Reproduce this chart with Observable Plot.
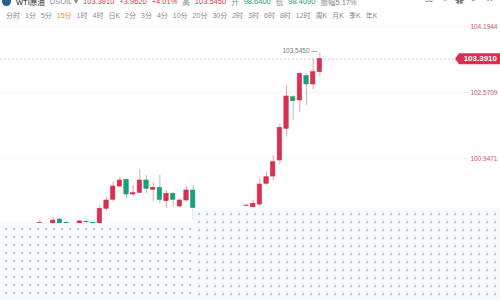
<!DOCTYPE html>
<html>
<head>
<meta charset="utf-8">
<script src="https://cdn.jsdelivr.net/npm/d3@7"></script>
<script src="https://cdn.jsdelivr.net/npm/@observablehq/plot@0.6"></script>
<style>
  html, body { margin: 0; padding: 0; background: #fff; }
  body { width: 500px; height: 300px; position: relative; overflow: hidden;
         font-family: "Liberation Sans", "Noto Sans CJK SC", sans-serif; }
  #quote { position: absolute; left: 2px; top: -5px; height: 12px;
           display: flex; gap: 5px; align-items: center;
           font-size: 7.5px; white-space: nowrap; }
  #logo { width: 9px; height: 9px; border-radius: 50%; background: #2c5d8f; }
  #tools { position: absolute; right: 6px; top: -6px; display: flex; gap: 7px;
           font-size: 9px; color: #777; }
  #tabs { position: absolute; left: 6px; top: 10px; display: flex; gap: 5px;
          font-size: 7px; color: #8a8a8a; white-space: nowrap; }
  #tabs .on { color: #f08a3c; }
  #chart { position: absolute; left: 0; top: 24px; }
  .veil { position: absolute; background-color: #f5f9fa;
          background-image: radial-gradient(circle, #a3abaf 0.5px, rgba(0,0,0,0) 1.1px);
          background-size: 8px 8px; background-position: 2px 2px; }
</style>
</head>
<body>
<div id="quote"><span id="logo"></span></div>
<div id="tools"></div>
<div id="tabs"></div>
<div id="chart"></div>
<div class="veil" style="left:0;top:223px;width:193px;height:77px"></div>
<div class="veil" style="left:193px;top:208px;width:307px;height:92px"></div>
<script>
// WTI crude (USOIL), 15-minute candles
const candleIndex = [-2, 0, 1, 2, 4, 5, 6, 7, 8, 9, 10, 11, 12, 13, 14, 15, 16, 17, 18, 19, 20, 21,
                     29, 30, 31, 32, 33, 34, 35, 36, 37, 38, 39, 40];
const openPx  = [99.34, 99.33, 99.446, 99.36, 99.34, 99.39, 99.365, 99.34, 99.71, 99.931, 100.258, 100.423, 100.062, 100.103, 100.406, 100.177, 100.226, 99.897, 100.079, 99.766, 99.914, 100.160,
                 99.78, 99.749, 99.815, 100.325, 100.504, 100.898, 101.678, 102.455, 102.374, 102.972, 102.768, 103.070];
const highPx  = [99.43, 99.50, 99.47, 99.39, 99.42, 99.42, 99.38, 99.79, 99.995, 100.364, 100.487, 100.45, 100.283, 100.669, 100.529, 100.364, 100.529, 100.16, 100.12, 99.95, 100.258, 100.283,
                 99.81, 99.914, 100.448, 100.610, 101.021, 101.801, 102.743, 102.497, 103.046, 103.031, 103.400, 103.545];
const lowPx   = [99.33, 99.31, 99.32, 99.33, 99.32, 99.35, 99.34, 99.33, 99.651, 99.872, 100.24, 99.956, 100.012, 100.09, 100.086, 99.897, 99.84, 99.71, 99.749, 99.73, 99.88, 99.422,
                 99.76, 99.73, 99.774, 100.283, 100.389, 100.800, 101.471, 101.882, 102.086, 102.251, 102.637, 102.947];
const closePx = [99.36, 99.42, 99.341, 99.355, 99.40, 99.38, 99.355, 99.71, 99.914, 100.258, 100.406, 100.062, 100.094, 100.406, 100.202, 100.226, 99.931, 100.079, 99.931, 99.914, 100.160, 99.734,
                 99.79, 99.833, 100.307, 100.487, 100.856, 101.702, 102.472, 102.357, 103.031, 102.768, 103.070, 103.391];

const priceTicks = [104.1944, 102.5709, 100.9471, 99.3233];
const lastPrice = 103.391;
const sessionHigh = 103.545;

const quoteItems = [
  ["WTI原油", "#222"], ["USOIL ▾", "#888"], ["103.3910", "#e0314d"],
  ["+3.9620", "#e0314d"], ["+4.01%", "#e0314d"], ["高", "#888"],
  ["103.5450", "#e0314d"], ["开", "#888"], ["98.6400", "#1aa079"],
  ["低", "#888"], ["98.4090", "#1aa079"], ["振幅5.17%", "#888"]
];
const periodTabs = ["分时", "1分", "5分", "15分", "1时", "4时", "日K", "2分", "3分", "4分", "10分", "20分",
                    "30分", "2时", "3时", "6时", "8时", "12时", "周K", "月K", "季K", "年K"];
const activeTab = "15分";
const toolIcons = ["⚖", "✎", "✿", "✐", "✕"];

// header: quote line, tool icons and period tabs
const quote = document.getElementById("quote");
for (const [t, c] of quoteItems) {
  const s = document.createElement("span");
  s.textContent = t; s.style.color = c;
  quote.appendChild(s);
}
const tools = document.getElementById("tools");
for (const t of toolIcons) {
  const s = document.createElement("span");
  s.textContent = t;
  tools.appendChild(s);
}
const tabs = document.getElementById("tabs");
for (const t of periodTabs) {
  const s = document.createElement("span");
  s.textContent = t;
  if (t === activeTab) s.className = "on";
  tabs.appendChild(s);
}

const candles = candleIndex.map((i, k) => ({
  i, open: openPx[k], high: highPx[k], low: lowPx[k], close: closePx[k],
  up: closePx[k] >= openPx[k]
}));
const last = candles[candles.length - 1];

const UP = "#d8304e", DOWN = "#17a07a";
const UP_WICK = "#e8a2ad", DOWN_WICK = "#a7c4bb";
const half = 0.33;

const chart = Plot.plot({
  width: 500,
  height: 276,
  marginTop: 0, marginBottom: 0, marginLeft: 0, marginRight: 0,
  style: { fontFamily: "Liberation Sans, sans-serif", fontSize: "6.5px", background: "transparent" },
  x: { type: "linear", domain: [-7.905, 67.095], axis: null },
  y: { type: "linear", domain: [97.4539, 104.2436], axis: null },
  marks: [
    Plot.ruleY(priceTicks, { stroke: "#f4f4f4" }),
    Plot.ruleY([lastPrice], { stroke: "#cfcfcf", strokeDasharray: "2,2" }),
    Plot.ruleX(candles, { x: "i", y1: "low", y2: "high", stroke: d => d.up ? UP_WICK : DOWN_WICK, strokeWidth: 1 }),
    Plot.rect(candles, {
      x1: d => d.i - half, x2: d => d.i + half, y1: "open", y2: "close",
      fill: d => d.up ? UP : DOWN, stroke: d => d.up ? UP : DOWN, strokeWidth: 0.6
    }),
    Plot.text([last], { x: "i", y: () => sessionHigh, text: () => sessionHigh.toFixed(4) + " —",
      textAnchor: "end", dx: -2, dy: -2, fill: "#7a7a7a" }),
    Plot.text(priceTicks, { y: d => d, text: d => d.toFixed(4), frameAnchor: "right",
      textAnchor: "end", dx: -3, fill: "#c25a6a" })
  ]
});
document.getElementById("chart").appendChild(chart);

// last-price tag on the right edge
const ty = chart.scale("y").apply(lastPrice);
const svg = d3.select(chart);
svg.append("path")
  .attr("d", `M455,${ty} L459,${ty - 5.5} L500,${ty - 5.5} L500,${ty + 5.5} L459,${ty + 5.5} Z`)
  .attr("fill", UP);
svg.append("text")
  .attr("x", 497).attr("y", ty).attr("dy", "0.35em")
  .attr("text-anchor", "end").attr("fill", "#fff")
  .attr("font-size", "8px").attr("font-weight", "bold")
  .text(lastPrice.toFixed(4));
</script>
</body>
</html>
